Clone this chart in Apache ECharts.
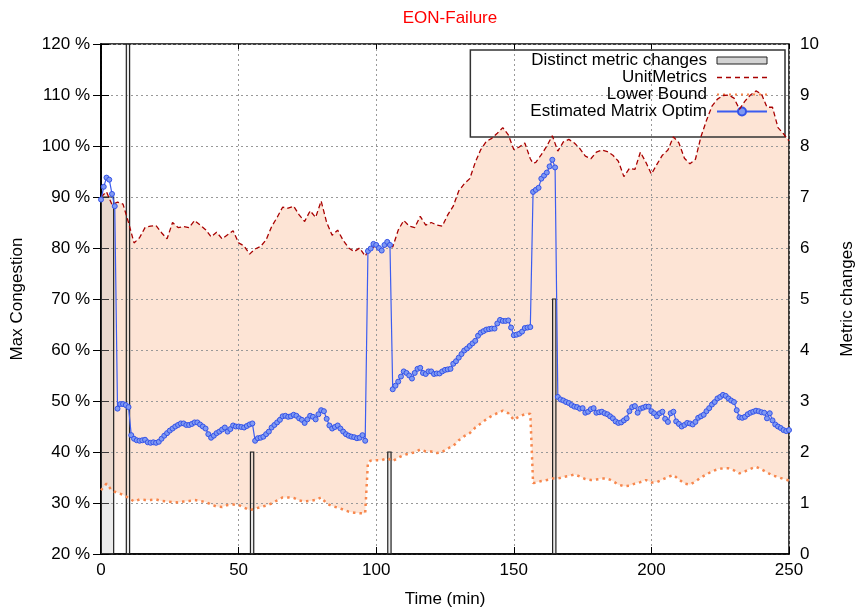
<!DOCTYPE html>
<html>
<head>
<meta charset="utf-8">
<title>EON-Failure</title>
<script src="https://cdn.jsdelivr.net/npm/echarts@6/dist/echarts.min.js"></script>
<style>
  html, body { margin: 0; padding: 0; background: #fff; }
  #chart { width: 860px; height: 610px; }
</style>
</head>
<body>
<div id="chart"></div>
<script>
// metric changes (right axis), boxes start/end in minutes
const metricStart = [0, 9.2, 54.3, 104.2, 164.1]
const metricEnd   = [4.6, 10.4, 55.5, 105.4, 165.3]
const metricCount = [7, 10, 2, 2, 5]

// UnitMetrics / Lower Bound, sampled on the same time grid
const bandTime = [
  0, 2, 4, 6, 8, 10, 12, 14, 16, 18, 20, 22, 24, 26, 28, 30, 32, 34, 36, 38,
  40, 42, 44, 46, 48, 50, 52, 54, 56, 58, 60, 62, 64, 66, 68, 70, 72, 74, 76, 78,
  80, 82, 84, 86, 88, 90, 92, 94, 96, 97,
  98, 100, 102, 104, 106, 108, 110, 112, 114, 116, 118, 120, 122, 124, 126, 128,
  130, 132, 134, 136, 138, 140, 142, 144, 146, 148, 150, 152, 154, 156, 157,
  158, 160, 162, 164, 166, 168, 170, 172, 174, 176, 178, 180, 182, 184, 186, 188,
  190, 192, 194, 196, 198, 200, 202, 204, 206, 208, 210, 212, 214, 216, 218, 220,
  222, 224, 226, 228, 230, 232, 234, 236, 238, 240, 242, 244, 246, 248, 250
]
const unitMetrics = [
  90.0, 91.0, 88.5, 89.0, 88.6, 85.0, 81.0, 82.0, 84.0, 84.3,
  84.4, 83.0, 81.8, 85.0, 84.0, 84.2, 84.0, 85.4, 84.5, 83.6,
  82.2, 83.1, 81.8, 82.6, 83.4, 81.0, 80.4, 78.8, 79.8, 80.3,
  81.6, 84.2, 86.0, 88.0, 87.8, 88.2, 86.5, 85.2, 87.3, 86.0,
  89.2, 85.0, 82.5, 83.5, 81.5, 80.0, 79.3, 80.0, 78.4, 79.4,
  79.8, 80.5, 79.8, 80.6, 80.2, 83.5, 85.4, 84.3, 84.0, 86.2,
  84.5, 85.0, 84.5, 84.3, 86.5, 88.2, 91.2, 92.6, 93.6, 96.8,
  99.3, 100.9, 101.5, 102.5, 103.6, 102.2, 99.3, 99.8, 100.6, 97.5, 96.6,
  96.8, 98.3, 100.0, 102.0, 99.0, 100.8, 101.3, 100.6, 99.5, 98.0,
  97.5, 98.8, 99.2, 98.9, 98.2, 97.0, 94.0, 95.6, 95.4, 98.8,
  96.8, 94.5, 96.4, 98.2, 99.2, 101.8, 100.6, 97.6, 96.5, 97.4,
  101.8, 105.0, 107.8, 109.2, 109.9, 110.0, 109.4, 107.2, 108.8, 110.0,
  110.8, 110.2, 107.6, 107.6, 103.6, 102.4, 101.0
]
const lowerBound = [
  32.5, 33.8, 32.4, 32.0, 31.6, 31.0, 30.3, 30.7, 30.6, 30.6,
  30.7, 30.4, 30.3, 30.2, 30.1, 30.3, 30.4, 30.6, 30.4, 30.2,
  29.7, 29.3, 29.2, 29.6, 29.7, 29.6, 29.1, 28.6, 28.9, 29.2,
  29.5, 29.9, 30.5, 31.1, 31.1, 31.0, 30.5, 30.3, 30.4, 30.6,
  31.1, 29.9, 29.4, 29.1, 28.7, 28.3, 28.1, 28.0, 28.0, 38.0,
  38.3, 38.4, 38.4, 38.8, 38.2, 38.9, 39.4, 39.7, 39.9, 40.5,
  40.1, 40.1, 39.8, 40.0, 40.7, 41.2, 42.3, 43.1, 43.7, 44.8,
  45.6, 46.4, 47.1, 47.6, 48.1, 47.6, 46.3, 47.0, 47.4, 47.5, 33.9,
  34.0, 34.3, 34.5, 34.8, 34.8, 35.1, 35.3, 35.6, 35.2, 34.7,
  34.5, 34.6, 34.8, 34.8, 34.3, 33.6, 33.3, 33.4, 33.8, 34.1,
  34.5, 34.0, 34.1, 34.6, 35.1, 35.5, 34.6, 33.8, 33.6, 34.2,
  35.0, 35.6, 36.2, 36.6, 36.8, 36.8, 36.4, 35.8, 36.2, 36.7,
  37.1, 36.6, 36.0, 35.4, 35.1, 34.7, 34.4
]

// Estimated Matrix Optim, one value per minute from t = 0 to 250
const estimated = [
  89.5, 92.0, 93.8, 93.4, 90.6, 88.2, 48.5, 49.4, 49.4, 49.2,
  48.8, 43.3, 42.6, 42.3, 42.2, 42.3, 42.4, 41.9, 41.8, 41.9,
  41.8, 42.0, 42.6, 43.2, 43.7, 44.2, 44.6, 45.0, 45.3, 45.6,
  45.6, 45.3, 45.3, 45.5, 45.8, 45.8, 45.4, 45.0, 44.6, 43.5,
  42.8, 43.2, 43.7, 44.0, 44.4, 44.8, 44.0, 44.5, 45.2, 45.0,
  45.0, 44.9, 44.8, 45.1, 45.4, 45.6, 42.2, 42.7, 42.8, 43.0,
  43.5, 44.0, 44.8, 45.3, 45.8, 46.3, 47.0, 47.1, 46.9, 47.0,
  47.3, 47.1, 46.6, 46.3, 45.7, 46.4, 47.1, 46.9, 46.4, 47.4,
  48.2, 48.0, 46.5, 45.2, 44.6, 44.9, 45.2, 44.6, 44.0, 43.5,
  43.2, 43.0, 42.9, 42.7, 42.8, 43.3, 42.2, 79.4, 79.9, 80.8,
  80.6, 80.0, 79.5, 80.6, 81.2, 80.6, 52.3, 53.0, 53.8, 54.8,
  55.8, 55.5, 55.0, 54.4, 55.5, 56.3, 56.5, 55.5, 55.3, 55.8,
  55.8, 55.3, 55.4, 55.4, 55.8, 56.1, 56.2, 56.3, 57.3, 57.8,
  58.5, 59.2, 59.9, 60.3, 60.8, 61.3, 61.8, 62.8, 63.4, 63.7,
  64.0, 64.1, 64.2, 64.2, 65.2, 65.9, 65.7, 65.7, 65.8, 64.4,
  62.9, 63.0, 63.2, 63.6, 64.3, 64.4, 64.5, 91.0, 91.4, 91.8,
  93.6, 94.2, 94.8, 96.0, 97.3, 95.8, 50.8, 50.3, 50.1, 49.8,
  49.6, 49.2, 48.9, 48.8, 48.5, 48.6, 47.7, 47.9, 48.4, 48.6,
  47.7, 47.8, 47.9, 47.6, 47.4, 47.0, 46.6, 46.0, 45.7, 45.8,
  46.2, 46.6, 48.0, 48.8, 49.0, 47.7, 48.5, 48.7, 48.9, 48.9,
  48.0, 47.6, 47.0, 47.6, 47.9, 46.5, 45.9, 47.6, 47.9, 46.0,
  45.5, 45.0, 45.3, 45.7, 45.6, 45.4, 45.9, 46.7, 47.0, 47.3,
  48.0, 48.6, 49.3, 49.8, 50.5, 50.8, 51.2, 51.0, 50.5, 50.1,
  49.8, 48.2, 46.8, 46.7, 46.9, 47.4, 47.7, 47.9, 48.1, 48.0,
  47.8, 47.7, 46.6, 47.6, 46.2, 45.4, 45.0, 44.7, 44.3, 44.1,
  44.3
]

const FONT = 'Liberation Sans, Arial, sans-serif'
const FS = 17

const lowerData = bandTime.map((t, i) => [t, lowerBound[i]])
const upperData = bandTime.map((t, i) => [t, unitMetrics[i]])
const estData   = estimated.map((v, i) => [i, v])
const barData   = metricStart.map((s, i) => [s, metricEnd[i], metricCount[i]])

// legend glyphs for the dashed / dotted lines
const dashIcon = 'path://' + [0, 9, 18, 27, 36, 45].map(x => `M${x},0h5v1.6h-5z`).join(' ')
const dotIcon  = 'path://' + [0, 6, 12, 18, 24, 30, 36, 42, 48].map(x => `M${x},0h2v2h-2z`).join(' ')

const chart = echarts.init(document.getElementById('chart'), null, { renderer: 'canvas' })

chart.setOption({
  animation: false,
  backgroundColor: '#fff',
  textStyle: { fontFamily: FONT },
  title: {
    text: 'EON-Failure',
    left: 445, top: 5, textAlign: 'center',
    textStyle: { color: '#ff0000', fontSize: FS, fontWeight: 'normal', fontFamily: FONT }
  },
  grid: {
    left: 101, right: 71, top: 44, bottom: 56,
    outerBoundsMode: 'none',
    show: true, borderColor: '#000', borderWidth: 1.5, backgroundColor: 'transparent'
  },
  legend: {
    orient: 'vertical',
    align: 'right',
    right: 75, top: 50,
    padding: [2, 17, 17, 60],
    itemWidth: 50, itemHeight: 10, itemGap: 0,
    borderColor: '#333', borderWidth: 1.5,
    backgroundColor: 'transparent',
    textStyle: { color: '#000', fontSize: FS, lineHeight: 17, fontFamily: FONT, padding: [0, 5, 0, 0] },
    data: [
      { name: 'Distinct metric changes', icon: 'path://M0,0 h50 v7 h-50 z',
        itemStyle: { color: '#d3d3d3', borderColor: '#222', borderWidth: 1 } },
      { name: 'UnitMetrics', icon: dashIcon, itemStyle: { color: '#a80000', borderWidth: 0 } },
      { name: 'Lower Bound', icon: dotIcon, itemStyle: { color: '#f7874d', borderWidth: 0 } },
      { name: 'Estimated Matrix Optim' }
    ]
  },
  xAxis: [{
    type: 'value', min: 0, max: 250, interval: 50,
    name: 'Time (min)', nameLocation: 'middle', nameGap: 37,
    nameTextStyle: { color: '#000', fontSize: FS, fontFamily: FONT },
    axisLine: { show: true, lineStyle: { color: '#000', width: 1.5 } },
    axisTick: { show: true, inside: true, length: 7, lineStyle: { color: '#000' } },
    axisLabel: { color: '#000', fontSize: FS, margin: 8, fontFamily: FONT },
    splitLine: { show: true, lineStyle: { color: '#999', type: [2, 3], width: 1 } }
  }, {
    type: 'value', min: 0, max: 250, interval: 50, position: 'top',
    axisLine: { show: false },
    axisTick: { show: true, inside: true, length: 5, lineStyle: { color: '#000' } },
    axisLabel: { show: false },
    splitLine: { show: false }
  }],
  yAxis: [{
    type: 'value', min: 20, max: 120, interval: 10,
    name: 'Max Congestion', nameLocation: 'middle', nameGap: 75, nameRotate: 90,
    nameTextStyle: { color: '#000', fontSize: FS, fontFamily: FONT },
    axisLine: { show: true, lineStyle: { color: '#000', width: 1.5 } },
    axisTick: { show: true, inside: true, length: 8, lineStyle: { color: '#000' } },
    axisLabel: { color: '#000', fontSize: FS, margin: 11, formatter: '{value} %', fontFamily: FONT },
    splitLine: { show: true, lineStyle: { color: '#999', type: [2, 3], width: 1 } }
  }, {
    type: 'value', min: 0, max: 10, interval: 1, position: 'right',
    name: 'Metric changes', nameLocation: 'middle', nameGap: 50, nameRotate: 90,
    nameTextStyle: { color: '#000', fontSize: FS, fontFamily: FONT },
    axisLine: { show: true, lineStyle: { color: '#000', width: 1.5 } },
    axisTick: { show: true, inside: true, length: 8, lineStyle: { color: '#000' } },
    axisLabel: { color: '#000', fontSize: FS, margin: 11, fontFamily: FONT },
    splitLine: { show: false }
  }],
  series: [
    {
      // shaded region between Lower Bound and UnitMetrics
      name: 'band', type: 'custom', z: -1, silent: true, clip: true,
      data: [[0, 20]],
      renderItem: (params, api) => {
        const pts = bandTime.map((t, i) => api.coord([t, unitMetrics[i]]))
        for (let i = bandTime.length - 1; i >= 0; i--) {
          pts.push(api.coord([bandTime[i], lowerBound[i]]))
        }
        return { type: 'polygon', shape: { points: pts }, style: { fill: '#fde4d5' } }
      }
    },
    {
      name: 'Distinct metric changes', type: 'custom', yAxisIndex: 1, clip: true, z: 2,
      itemStyle: { color: '#d3d3d3' },
      data: barData,
      renderItem: (params, api) => {
        const p0 = api.coord([api.value(0), api.value(2)])
        const p1 = api.coord([api.value(1), 0])
        return {
          type: 'rect',
          shape: { x: p0[0], y: p0[1], width: p1[0] - p0[0], height: p1[1] - p0[1] },
          style: { fill: 'rgba(190,190,190,0.3)', stroke: '#222', lineWidth: 1.2 }
        }
      }
    },
    {
      name: 'Lower Bound', type: 'line', z: 3,
      data: lowerData, showSymbol: false, symbol: 'none',
      lineStyle: { color: '#f7874d', width: 2.5, type: [2.5, 4] },
      itemStyle: { color: '#f7874d' }
    },
    {
      name: 'UnitMetrics', type: 'line', z: 4,
      data: upperData, showSymbol: false, symbol: 'none',
      lineStyle: { color: '#a80000', width: 1.3, type: [5, 3] },
      itemStyle: { color: '#a80000' }
    },
    {
      name: 'Estimated Matrix Optim', type: 'line', z: 5,
      data: estData, symbol: 'circle', symbolSize: 5, showSymbol: true,
      lineStyle: { color: '#3b5cf0', width: 1.2 },
      itemStyle: { color: '#8099f2', borderColor: '#3453e8', borderWidth: 1 }
    }
  ]
})
</script>
</body>
</html>
